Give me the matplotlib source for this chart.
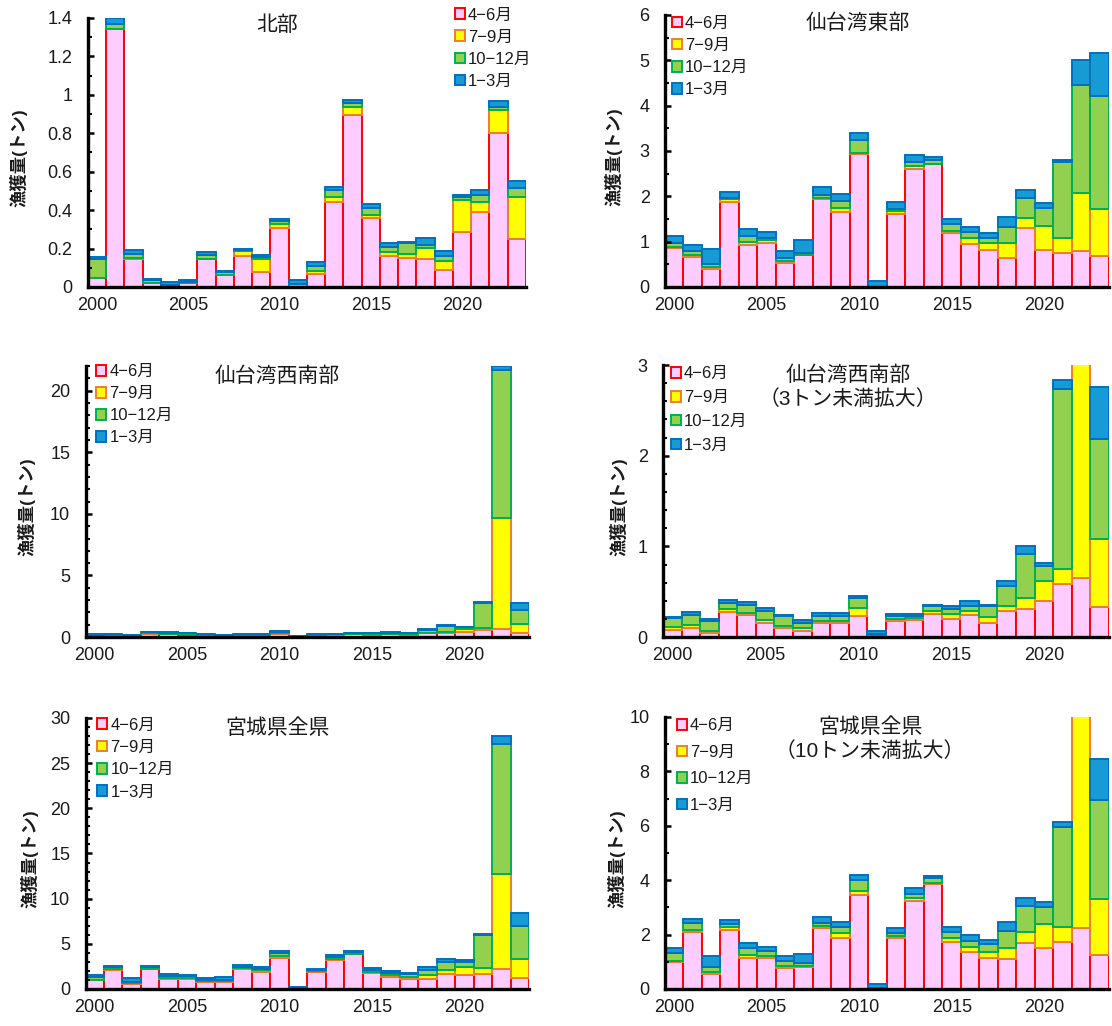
import matplotlib
matplotlib.use('Agg')
import matplotlib.pyplot as plt
from matplotlib.ticker import MultipleLocator, FuncFormatter

plt.rcParams['font.family'] = ['Liberation Sans', 'Noto Sans CJK JP']

years = list(range(2000, 2024))
labels = ['4−6月', '7−9月', '10−12月', '1−3月']

# 北部
north_46 = [0.045,1.34,0.145,0.02,0.005,0.02,0.145,0.06,0.16,0.08,0.305,0.0,0.07,0.44,0.895,0.36,0.16,0.153,0.148,0.09,0.285,0.39,0.80,0.252]
north_79 = [0,0.005,0.005,0,0,0,0.003,0.002,0.025,0.065,0.025,0,0.015,0.03,0.04,0.015,0.022,0.02,0.057,0.045,0.167,0.053,0.122,0.218]
north_1012 = [0.10,0.025,0.02,0.018,0.005,0.008,0.02,0.015,0.005,0.012,0.015,0.014,0.025,0.035,0.025,0.035,0.025,0.055,0.012,0.025,0.015,0.035,0.014,0.043]
north_13 = [0.01,0.03,0.02,0.002,0.015,0.01,0.012,0.006,0.01,0.01,0.007,0.024,0.02,0.013,0.012,0.022,0.02,0.008,0.04,0.025,0.012,0.026,0.03,0.038]

# 仙台湾東部
east_46 = [0.85,0.66,0.40,1.88,0.93,0.98,0.53,0.70,1.93,1.66,2.93,0.0,1.62,2.61,2.71,1.18,0.94,0.81,0.65,1.29,0.82,0.74,0.80,0.68]
east_79 = [0.04,0.04,0.04,0.05,0.06,0.05,0.045,0.01,0.035,0.09,0.03,0.0,0.06,0.06,0.01,0.05,0.13,0.15,0.31,0.24,0.52,0.34,1.28,1.05]
east_1012 = [0.07,0.09,0.07,0.04,0.13,0.05,0.075,0.04,0.06,0.14,0.28,0.005,0.05,0.08,0.09,0.17,0.14,0.13,0.37,0.44,0.41,1.68,2.38,2.49]
east_13 = [0.17,0.13,0.33,0.13,0.15,0.13,0.145,0.28,0.18,0.16,0.15,0.12,0.15,0.17,0.06,0.11,0.11,0.10,0.21,0.18,0.11,0.05,0.54,0.95]

# 仙台湾西南部
sw_46 = [0.08,0.10,0.045,0.28,0.24,0.155,0.10,0.07,0.155,0.16,0.228,0.005,0.173,0.19,0.253,0.20,0.24,0.155,0.29,0.31,0.393,0.59,0.65,0.33]
sw_79 = [0.035,0.035,0.02,0.025,0.025,0.03,0.018,0.03,0.018,0.022,0.09,0.01,0.025,0.018,0.03,0.055,0.043,0.062,0.055,0.12,0.22,0.16,9.0,0.75]
sw_1012 = [0.09,0.11,0.11,0.07,0.09,0.105,0.11,0.055,0.062,0.055,0.11,0.02,0.03,0.02,0.055,0.055,0.055,0.12,0.22,0.49,0.173,1.99,12.03,1.10]
sw_13 = [0.02,0.03,0.025,0.03,0.03,0.03,0.018,0.035,0.03,0.027,0.027,0.03,0.03,0.025,0.018,0.03,0.062,0.018,0.058,0.08,0.03,0.09,0.32,0.575]

# 宮城県全県
all_46 = [0.99,2.08,0.56,2.18,1.15,1.15,0.77,0.82,2.24,1.88,3.45,0.005,1.86,3.22,3.86,1.74,1.35,1.14,1.10,1.69,1.51,1.71,2.25,1.26]
all_79 = [0.05,0.08,0.08,0.08,0.10,0.08,0.06,0.03,0.07,0.18,0.15,0.005,0.09,0.12,0.05,0.13,0.20,0.22,0.42,0.40,0.88,0.56,10.45,2.05]
all_1012 = [0.28,0.25,0.18,0.12,0.24,0.15,0.20,0.11,0.13,0.20,0.40,0.04,0.10,0.15,0.16,0.23,0.23,0.30,0.60,0.95,0.62,3.70,14.4,3.62]
all_13 = [0.19,0.18,0.39,0.16,0.19,0.18,0.20,0.32,0.22,0.20,0.20,0.15,0.19,0.22,0.10,0.17,0.20,0.14,0.33,0.30,0.17,0.17,0.88,1.52]

fills = ['#FFCCFF', '#FFFF00', '#92D050', '#169BD5']
edges = ['#FF0000', '#ED7D31', '#00B050', '#0070C0']
txt = '#1a1a1a'


def panel(rect, series, title, ymax, major, minor, leg_xy, leg_space, title_xy, lbl_x):
    ax = fig.add_axes(rect)
    bottom = [0] * len(years)
    for vals, fc, ec, lab in zip(series, fills, edges, labels):
        ax.bar(years, vals, width=1.0, bottom=bottom, color=fc, edgecolor=ec,
               linewidth=1.4, label=lab)
        bottom = [b + v for b, v in zip(bottom, vals)]
    ax.set_xlim(1999.5, 2023.5)
    ax.set_ylim(0, ymax)
    ax.yaxis.set_major_locator(MultipleLocator(major))
    ax.yaxis.set_minor_locator(MultipleLocator(minor))
    ax.yaxis.set_major_formatter(FuncFormatter(lambda v, p: '%g' % round(v, 3)))
    ax.set_xticks([2000, 2005, 2010, 2015, 2020])
    ax.spines['top'].set_visible(False)
    ax.spines['right'].set_visible(False)
    ax.spines['left'].set_linewidth(2.4)
    ax.spines['bottom'].set_linewidth(2.4)
    ax.tick_params(axis='y', which='major', direction='in', length=4.5, width=1.8,
                   labelsize=13, labelcolor=txt, pad=11)
    ax.tick_params(axis='y', which='minor', direction='in', length=3.2, width=1.5)
    ax.tick_params(axis='x', length=0, labelsize=13, labelcolor=txt, pad=7.5)
    ax.set_ylabel('漁獲量(トン)', fontsize=12.5, fontweight='bold', color=txt)
    ax.yaxis.set_label_coords(lbl_x, 0.48)
    ax.text(title_xy[0], title_xy[1], title, transform=ax.transAxes, ha='center',
            va='top', fontsize=15, color=txt, linespacing=1.3)
    ax.legend(loc='upper left', bbox_to_anchor=leg_xy, frameon=False,
              borderpad=0, borderaxespad=0, handlelength=0.6, handleheight=0.6,
              handletextpad=0.2, labelspacing=leg_space, fontsize=12,
              labelcolor=txt)
    return ax


fig = plt.figure(figsize=(11.12, 10.26), dpi=100)

panel([0.0791, 0.7203, 0.3939, 0.2622],
      [north_46, north_79, north_1012, north_13], '北部',
      1.4, 0.2, 0.1, (0.837, 1.039), 0.43, (0.433, 1.01), -0.139)
panel([0.5980, 0.7203, 0.3993, 0.2651],
      [east_46, east_79, east_1012, east_13], '仙台湾東部',
      6, 1, 0.5, (0.015, 0.997), 0.43, (0.435, 1.005), -0.096)
panel([0.0769, 0.3791, 0.3988, 0.2641],
      [sw_46, sw_79, sw_1012, sw_13], '仙台湾西南部',
      22, 5, 1, (0.024, 1.007), 0.42, (0.433, 1.0), -0.112)
panel([0.5962, 0.3791, 0.4011, 0.2651],
      [sw_46, sw_79, sw_1012, sw_13], '仙台湾西南部\n（3トン未満拡大）',
      3, 1, 0.2, (0.017, 0.995), 0.53, (0.415, 1.0), -0.079)
panel([0.0769, 0.0361, 0.3988, 0.2641],
      [all_46, all_79, all_1012, all_13], '宮城県全県',
      30, 5, 1, (0.026, 1.002), 0.44, (0.433, 1.0), -0.105)
panel([0.5980, 0.0361, 0.3993, 0.2651],
      [all_46, all_79, all_1012, all_13], '宮城県全県\n（10トン未満拡大）',
      10, 2, 1, (0.026, 0.995), 0.69, (0.462, 1.0), -0.088)

fig.savefig('out.png', dpi=100)
